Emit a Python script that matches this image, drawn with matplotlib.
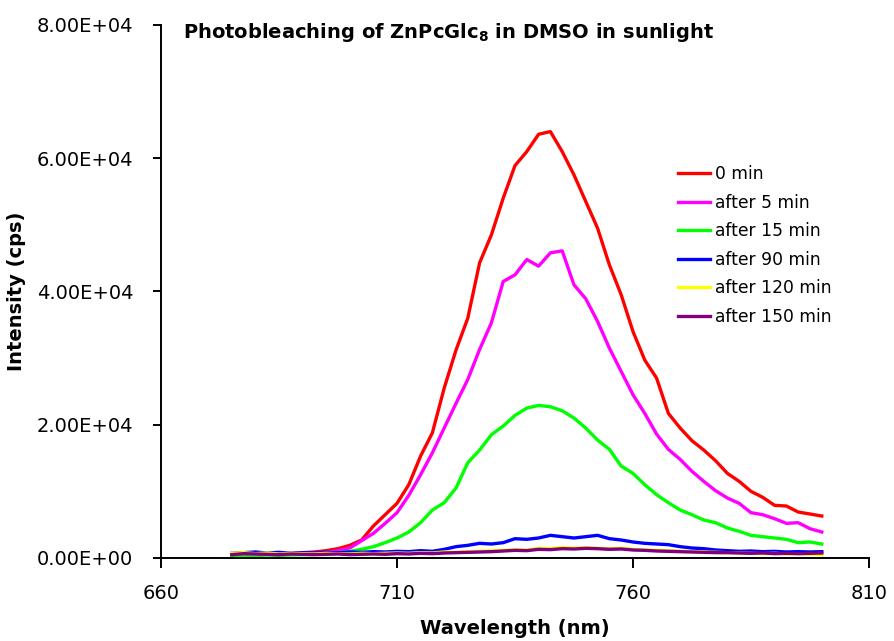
import numpy as np
import matplotlib
matplotlib.use("Agg")
import matplotlib.pyplot as plt
from matplotlib.ticker import FuncFormatter

# longitud de onda (nm), cada 2.5 nm
wl = np.arange(675, 800.1, 2.5)

red_0 = [600, 700, 650, 700, 600, 700, 800, 900, 1100, 1400, 1900, 2700, 4800, 6500, 8200,
         11000, 15300, 18800, 25500, 31200, 36000, 44300, 48500, 54000, 58900, 61000, 63600,
         64000, 61000, 57500, 53500, 49500, 44000, 39500, 34000, 29700, 27000, 21700, 19500,
         17600, 16200, 14600, 12700, 11500, 10000, 9100, 7900, 7800, 6900, 6600, 6300]
mag_5 = [400, 500, 550, 600, 500, 600, 650, 700, 800, 1100, 1500, 2600, 3700, 5200, 6800,
         9400, 12500, 15800, 19500, 23200, 26800, 31300, 35300, 41500, 42500, 44800, 43800,
         45800, 46100, 41000, 38900, 35500, 31500, 28000, 24500, 21700, 18600, 16300, 14800,
         13000, 11500, 10100, 9000, 8200, 6800, 6500, 5900, 5200, 5300, 4400, 3900]
green_15 = [300, 400, 350, 450, 400, 450, 500, 550, 650, 800, 1000, 1300, 1700, 2300, 3000,
            3900, 5300, 7200, 8300, 10500, 14300, 16200, 18500, 19800, 21400, 22500, 22900,
            22700, 22100, 21000, 19500, 17700, 16300, 13800, 12700, 11000, 9500, 8300, 7200,
            6500, 5700, 5300, 4500, 4000, 3400, 3200, 3000, 2800, 2300, 2400, 2100]
blue_90 = [700, 800, 900, 750, 850, 700, 800, 750, 850, 800, 900, 850, 950, 900, 1000,
           950, 1100, 1000, 1300, 1700, 1900, 2200, 2100, 2300, 2900, 2800, 3000,
           3400, 3200, 3000, 3200, 3400, 2900, 2700, 2400, 2200, 2100, 2000, 1700,
           1500, 1400, 1200, 1100, 1000, 1050, 950, 1000, 900, 950, 900, 950]
yellow_120 = [700, 800, 650, 750, 600, 700, 650, 600, 700, 650, 600, 700, 650, 700, 750,
              700, 800, 750, 900, 850, 950, 1000, 1100, 1150, 1250, 1200, 1450,
              1400, 1600, 1500, 1550, 1450, 1400, 1450, 1300, 1200, 1150, 1100, 1000,
              950, 900, 850, 800, 750, 700, 650, 700, 600, 650, 550, 500]
purple_150 = [500, 650, 600, 550, 500, 600, 550, 500, 550, 600, 500, 550, 600, 550, 650,
              600, 700, 650, 750, 800, 850, 900, 950, 1050, 1150, 1100, 1300,
              1250, 1400, 1350, 1450, 1400, 1300, 1350, 1200, 1150, 1050, 1000, 950,
              900, 850, 800, 800, 750, 700, 750, 650, 700, 650, 700, 750]

series = [red_0, mag_5, green_15, blue_90, yellow_120, purple_150]
labels = ['0 min', 'after 5 min', 'after 15 min', 'after 90 min', 'after 120 min', 'after 150 min']
colors = ['#ff0000', '#ff00ff', '#00ff00', '#0000ff', '#ffff00', '#800080']

fig = plt.figure(figsize=(8.94, 6.41), dpi=100)
ax = fig.add_axes([0.1801, 0.1295, 0.7919, 0.8315])

for y, lab, c in zip(series, labels, colors):
    ax.plot(wl, y, color=c, lw=2.4, label=lab)

ax.set_xlim(660, 810)
ax.set_ylim(0, 80000)
ax.set_xticks([660, 710, 760, 810])
ax.set_yticks([0, 20000, 40000, 60000, 80000])
ax.yaxis.set_major_formatter(FuncFormatter(lambda v, p: f"{v:.2E}"))

for s in ['top', 'right']:
    ax.spines[s].set_visible(False)
for s in ['left', 'bottom']:
    ax.spines[s].set_linewidth(1.4)

ax.tick_params(axis='y', direction='out', length=6, width=1.4, labelsize=14, pad=14)
ax.tick_params(axis='x', direction='out', length=7, width=1.4, labelsize=14, pad=12)

ax.set_xlabel('Wavelength (nm)', fontsize=14, fontweight='bold')
ax.set_ylabel('Intensity (cps)', fontsize=14, fontweight='bold')
ax.xaxis.set_label_coords(0.5, -0.115)
ax.yaxis.set_label_coords(-0.19, 0.5)

ax.text(0.031, 0.985, r'Photobleaching of ZnPcGlc$_\mathbf{8}$ in DMSO in sunlight',
        transform=ax.transAxes, fontsize=14, fontweight='bold', va='center', ha='left')

ax.legend(loc='upper left', bbox_to_anchor=(0.72, 0.75), frameon=False, fontsize=12.3,
          handlelength=1.9, handletextpad=0.3, labelspacing=0.62, borderaxespad=0)

plt.savefig('out.png', dpi=100)
